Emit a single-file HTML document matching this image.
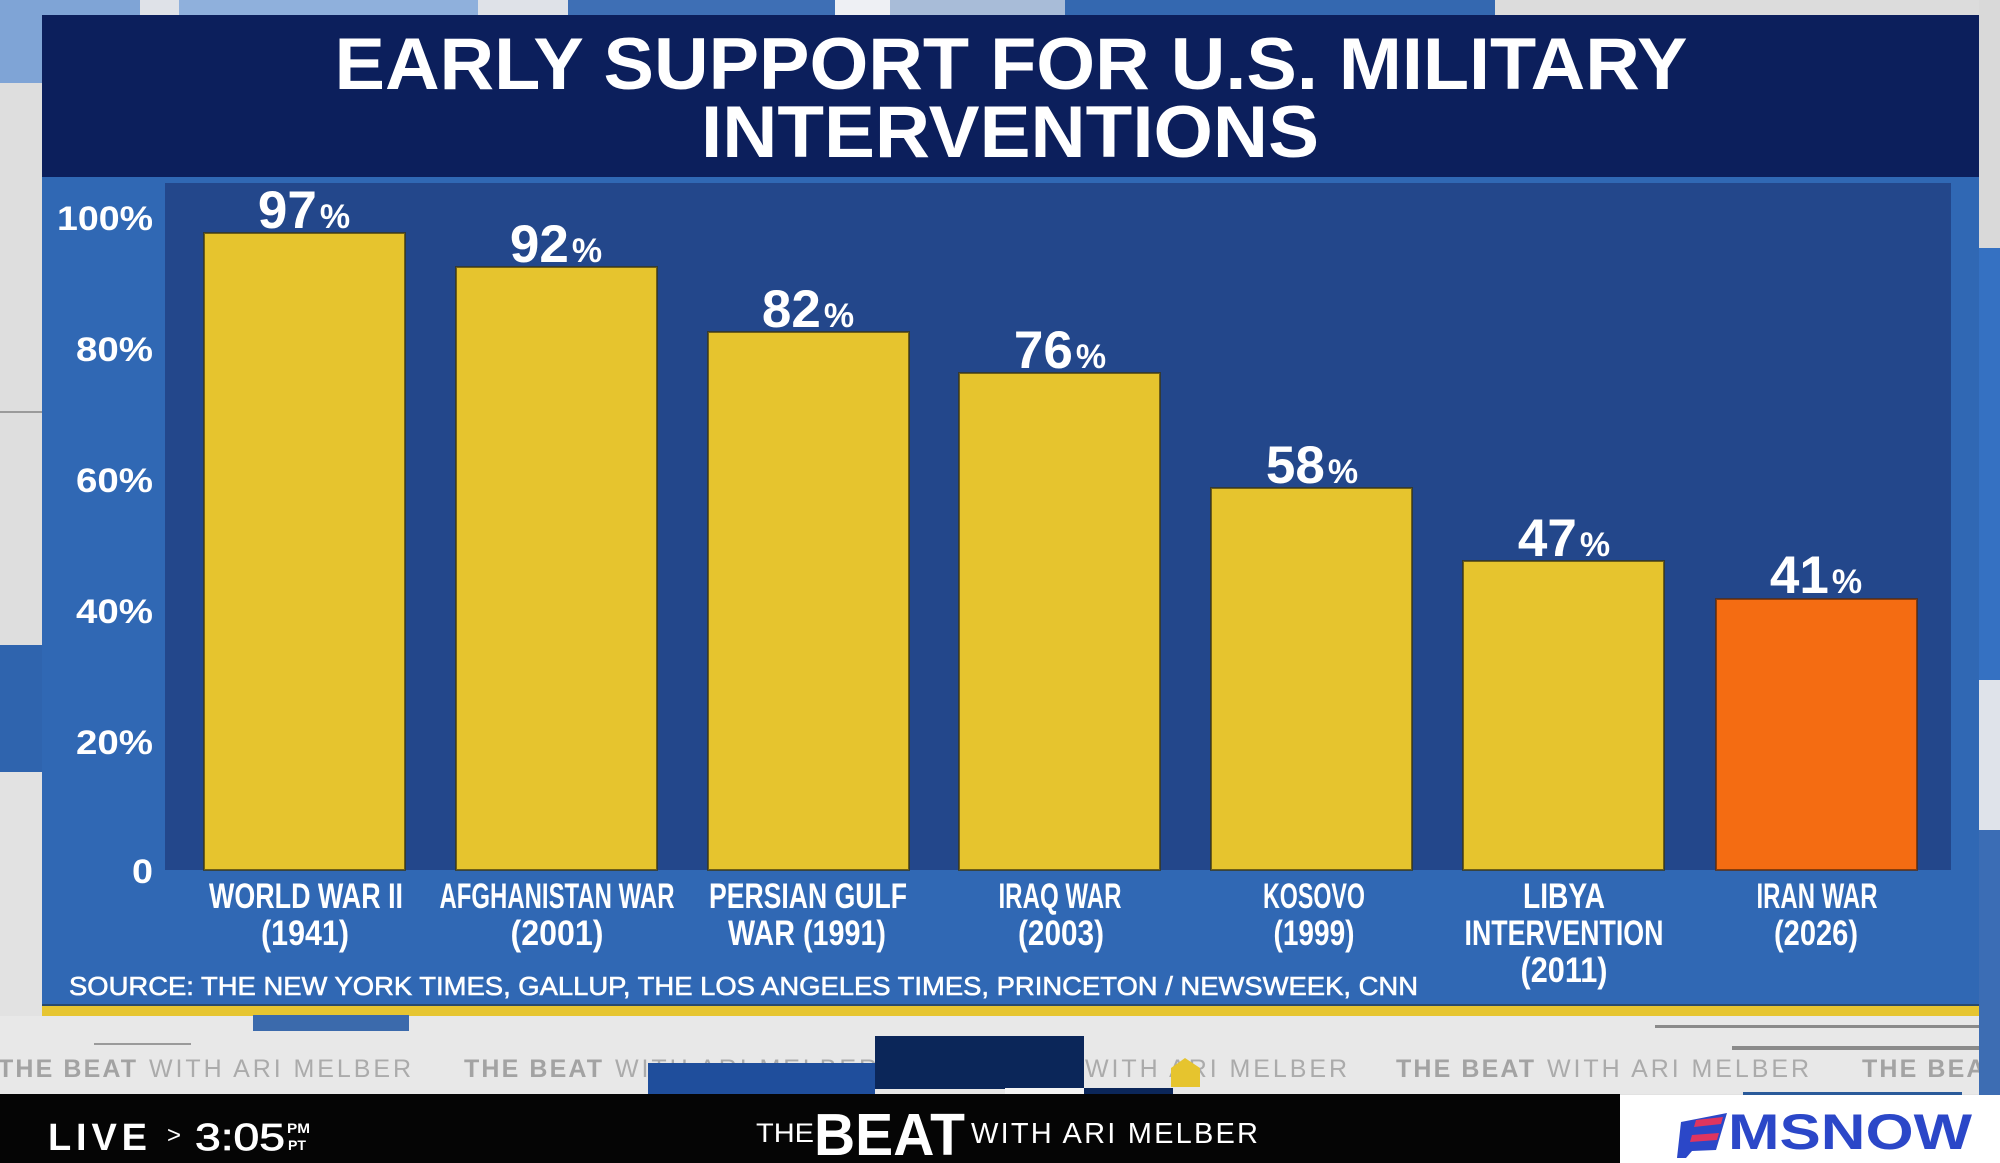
<!DOCTYPE html>
<html>
<head>
<meta charset="utf-8">
<style>
html,body{margin:0;padding:0;background:#e2e2e2;}
svg{display:block;}
text{font-family:"Liberation Sans",sans-serif;}
.n{font-family:"Liberation Sans Narrow","Liberation Sans",sans-serif;font-weight:bold;}
</style>
</head>
<body>
<svg width="2000" height="1163" viewBox="0 0 2000 1163" xmlns="http://www.w3.org/2000/svg">
  <!-- background -->
  <rect x="0" y="0" width="2000" height="1163" fill="#e2e2e2"/>
  <!-- top strip blocks -->
  <rect x="0" y="0" width="140" height="15" fill="#7fa4d6"/>
  <rect x="140" y="0" width="39" height="15" fill="#dfe2e8"/>
  <rect x="179" y="0" width="299" height="15" fill="#8fb0dc"/>
  <rect x="478" y="0" width="90" height="15" fill="#dfe2e8"/>
  <rect x="568" y="0" width="267" height="15" fill="#3e6fb5"/>
  <rect x="835" y="0" width="55" height="15" fill="#eef0f4"/>
  <rect x="890" y="0" width="175" height="15" fill="#a8bcd8"/>
  <rect x="1065" y="0" width="430" height="15" fill="#3468b0"/>
  <rect x="1495" y="0" width="505" height="15" fill="#dcdcdc"/>
  <!-- left strip -->
  <rect x="0" y="15" width="42" height="68" fill="#7fa4d6"/>
  <rect x="0" y="83" width="42" height="562" fill="#dedede"/>
  <rect x="0" y="411" width="42" height="2" fill="#9a9a9a"/>
  <rect x="0" y="645" width="42" height="127" fill="#2f64ae"/>
  <rect x="0" y="772" width="42" height="243" fill="#e2e2e2"/>
  <!-- right strip -->
  <rect x="1979" y="0" width="21" height="248" fill="#d9d9d9"/>
  <rect x="1979" y="248" width="21" height="432" fill="#3571c2"/>
  <rect x="1979" y="680" width="21" height="150" fill="#dfe3ea"/>
  <rect x="1979" y="830" width="21" height="265" fill="#3b6db5"/>

  <!-- panel -->
  <rect x="42" y="15" width="1937" height="162" fill="#0c1f5c"/>
  <rect x="42" y="177" width="1937" height="828" fill="#3068b4"/>
  <rect x="165" y="183" width="1786" height="687" fill="#23478b"/>
  <rect x="42" y="1004" width="1937" height="2" fill="#2a4a6a"/>
  <rect x="42" y="1006" width="1937" height="10" fill="#e6c531"/>

  <!-- title -->
  <text x="1011" y="89" text-anchor="middle" font-size="73" font-weight="bold" fill="#ffffff" textLength="1353" lengthAdjust="spacingAndGlyphs">EARLY SUPPORT FOR U.S. MILITARY</text>
  <text x="1010" y="157" text-anchor="middle" font-size="73" font-weight="bold" fill="#ffffff" textLength="618" lengthAdjust="spacingAndGlyphs">INTERVENTIONS</text>

  <!-- y axis labels -->
  <g font-size="34" font-weight="bold" fill="#ffffff" text-anchor="end">
    <text x="153" y="230" textLength="96" lengthAdjust="spacingAndGlyphs">100%</text>
    <text x="153" y="361" textLength="77" lengthAdjust="spacingAndGlyphs">80%</text>
    <text x="153" y="492" textLength="77" lengthAdjust="spacingAndGlyphs">60%</text>
    <text x="153" y="623" textLength="77" lengthAdjust="spacingAndGlyphs">40%</text>
    <text x="153" y="754" textLength="77" lengthAdjust="spacingAndGlyphs">20%</text>
    <text x="153" y="883" textLength="21" lengthAdjust="spacingAndGlyphs">0</text>
  </g>

  <!-- bars -->
  <g stroke="#3a3410" stroke-opacity="0.7" stroke-width="2">
    <rect x="204" y="233" width="201" height="637" fill="#e6c42e"/>
    <rect x="456" y="267" width="201" height="603" fill="#e6c42e"/>
    <rect x="708" y="332" width="201" height="538" fill="#e6c42e"/>
    <rect x="959" y="373" width="201" height="497" fill="#e6c42e"/>
    <rect x="1211" y="488" width="201" height="382" fill="#e6c42e"/>
    <rect x="1463" y="561" width="201" height="309" fill="#e6c42e"/>
    <rect x="1716" y="599" width="201" height="271" fill="#f46c12" stroke="#5a2a08"/>
  </g>

  <!-- value labels -->
  <g font-weight="bold" fill="#ffffff" text-anchor="middle">
    <text x="304" y="228"><tspan font-size="53">97</tspan><tspan font-size="34" dx="3">%</tspan></text>
    <text x="556" y="262"><tspan font-size="53">92</tspan><tspan font-size="34" dx="3">%</tspan></text>
    <text x="808" y="327"><tspan font-size="53">82</tspan><tspan font-size="34" dx="3">%</tspan></text>
    <text x="1060" y="368"><tspan font-size="53">76</tspan><tspan font-size="34" dx="3">%</tspan></text>
    <text x="1312" y="483"><tspan font-size="53">58</tspan><tspan font-size="34" dx="3">%</tspan></text>
    <text x="1564" y="556"><tspan font-size="53">47</tspan><tspan font-size="34" dx="3">%</tspan></text>
    <text x="1816" y="593"><tspan font-size="53">41</tspan><tspan font-size="34" dx="3">%</tspan></text>
  </g>

  <!-- category labels -->
  <g class="n" font-size="35" fill="#ffffff" text-anchor="middle">
    <text class="n" x="306" y="908" textLength="194" lengthAdjust="spacingAndGlyphs">WORLD WAR II</text>
    <text class="n" x="305" y="945" textLength="88" lengthAdjust="spacingAndGlyphs">(1941)</text>
    <text class="n" x="557" y="908" textLength="235" lengthAdjust="spacingAndGlyphs">AFGHANISTAN WAR</text>
    <text class="n" x="557" y="945" textLength="93" lengthAdjust="spacingAndGlyphs">(2001)</text>
    <text class="n" x="808" y="908" textLength="198" lengthAdjust="spacingAndGlyphs">PERSIAN GULF</text>
    <text class="n" x="807" y="945" textLength="158" lengthAdjust="spacingAndGlyphs">WAR (1991)</text>
    <text class="n" x="1060" y="908" textLength="123" lengthAdjust="spacingAndGlyphs">IRAQ WAR</text>
    <text class="n" x="1061" y="945" textLength="86" lengthAdjust="spacingAndGlyphs">(2003)</text>
    <text class="n" x="1314" y="908" textLength="102" lengthAdjust="spacingAndGlyphs">KOSOVO</text>
    <text class="n" x="1314" y="945" textLength="81" lengthAdjust="spacingAndGlyphs">(1999)</text>
    <text class="n" x="1564" y="908" textLength="82" lengthAdjust="spacingAndGlyphs">LIBYA</text>
    <text class="n" x="1564" y="945" textLength="199" lengthAdjust="spacingAndGlyphs">INTERVENTION</text>
    <text class="n" x="1564" y="982" textLength="87" lengthAdjust="spacingAndGlyphs">(2011)</text>
    <text class="n" x="1817" y="908" textLength="121" lengthAdjust="spacingAndGlyphs">IRAN WAR</text>
    <text class="n" x="1816" y="945" textLength="84" lengthAdjust="spacingAndGlyphs">(2026)</text>
  </g>

  <!-- source -->
  <text x="69" y="995" font-size="26" fill="#ffffff" stroke="#ffffff" stroke-width="0.6" textLength="1349" lengthAdjust="spacingAndGlyphs">SOURCE: THE NEW YORK TIMES, GALLUP, THE LOS ANGELES TIMES, PRINCETON / NEWSWEEK, CNN</text>

  <!-- light strip under panel -->
  <rect x="0" y="1016" width="1979" height="78" fill="#e8e8e8"/>
  <rect x="253" y="1015" width="156" height="16" fill="#3b6aac"/>
  <rect x="94" y="1043" width="97" height="2" fill="#9a9a9a"/>
  <rect x="1655" y="1025" width="324" height="3" fill="#8a8a8a"/>
  <rect x="1732" y="1046" width="247" height="4" fill="#8a8a8a"/>

  <!-- ticker text -->
  <g font-size="25">
    <g transform="translate(-2,0)">
      <text x="0" y="1077" font-weight="bold" fill="#a3a3a3" textLength="138" lengthAdjust="spacing">THE BEAT</text>
      <text x="151" y="1077" fill="#ababab" textLength="262" lengthAdjust="spacing">WITH ARI MELBER</text>
    </g>
    <g transform="translate(464,0)">
      <text x="0" y="1077" font-weight="bold" fill="#a3a3a3" textLength="138" lengthAdjust="spacing">THE BEAT</text>
      <text x="151" y="1077" fill="#ababab" textLength="262" lengthAdjust="spacing">WITH ARI MELBER</text>
    </g>
    <g transform="translate(930,0)">
      <text x="0" y="1077" font-weight="bold" fill="#a3a3a3" textLength="138" lengthAdjust="spacing">THE BEAT</text>
      <text x="155" y="1077" fill="#ababab" textLength="262" lengthAdjust="spacing">WITH ARI MELBER</text>
    </g>
    <g transform="translate(1396,0)">
      <text x="0" y="1077" font-weight="bold" fill="#a3a3a3" textLength="138" lengthAdjust="spacing">THE BEAT</text>
      <text x="151" y="1077" fill="#ababab" textLength="262" lengthAdjust="spacing">WITH ARI MELBER</text>
    </g>
    <g transform="translate(1862,0)">
      <text x="0" y="1077" font-weight="bold" fill="#a3a3a3" textLength="138" lengthAdjust="spacing">THE BEAT</text>
    </g>
  </g>
  <!-- right edge strip over ticker -->
  <rect x="1979" y="1000" width="21" height="95" fill="#3d6db3"/>

  <!-- blocks over ticker -->
  <rect x="648" y="1063" width="227" height="31" fill="#1f4e9c"/>
  <rect x="875" y="1036" width="209" height="53" fill="#0b2659"/>
  <rect x="1005" y="1088" width="79" height="6" fill="#f4f4f4"/>
  <rect x="1084" y="1088" width="89" height="6" fill="#0b2659"/>
  <path d="M1171 1087 L1171 1068 L1185 1058 L1200 1068 L1200 1087 Z" fill="#e6c42e"/>
  <rect x="1743" y="1092" width="219" height="3" fill="#2a5a9a"/>

  <!-- black bar -->
  <rect x="0" y="1094" width="1620" height="69" fill="#050505"/>
  <rect x="1620" y="1095" width="380" height="68" fill="#ffffff"/>

  <text x="48" y="1150" font-size="38" font-weight="bold" fill="#ffffff" textLength="99" lengthAdjust="spacing">LIVE</text>
  <text x="167" y="1143" font-size="24" fill="#ffffff">&gt;</text>
  <text x="195" y="1150" font-size="38" fill="#ffffff" stroke="#ffffff" stroke-width="0.8" textLength="90" lengthAdjust="spacingAndGlyphs">3:05</text>
  <text x="287" y="1133" font-size="14" font-weight="bold" fill="#ffffff" textLength="23" lengthAdjust="spacingAndGlyphs">PM</text>
  <text x="288" y="1150" font-size="14" font-weight="bold" fill="#ffffff" textLength="18" lengthAdjust="spacingAndGlyphs">PT</text>

  <text x="756" y="1142" font-size="27" fill="#ffffff" textLength="58" lengthAdjust="spacingAndGlyphs">THE</text>
  <text x="814" y="1155" font-size="59" font-weight="bold" fill="#ffffff" textLength="151" lengthAdjust="spacingAndGlyphs">BEAT</text>
  <text x="971" y="1143" font-size="29" fill="#ffffff" textLength="287" lengthAdjust="spacing">WITH ARI MELBER</text>

  <!-- MS NOW logo -->
  <path d="M1681 1122 L1727 1113 L1716 1150 L1692 1151 L1686 1158 L1677 1158 Z" fill="#2b47c8"/>
  <polygon points="1696,1120 1723,1117 1721,1124 1694,1127" fill="#e0355f"/>
  <polygon points="1692,1135 1719,1133 1717,1140 1690,1142" fill="#e0355f"/>
  <text x="1728" y="1149" font-size="50" font-weight="bold" fill="#2b47c8" textLength="244" lengthAdjust="spacingAndGlyphs">MSNOW</text>
</svg>
</body>
</html>
